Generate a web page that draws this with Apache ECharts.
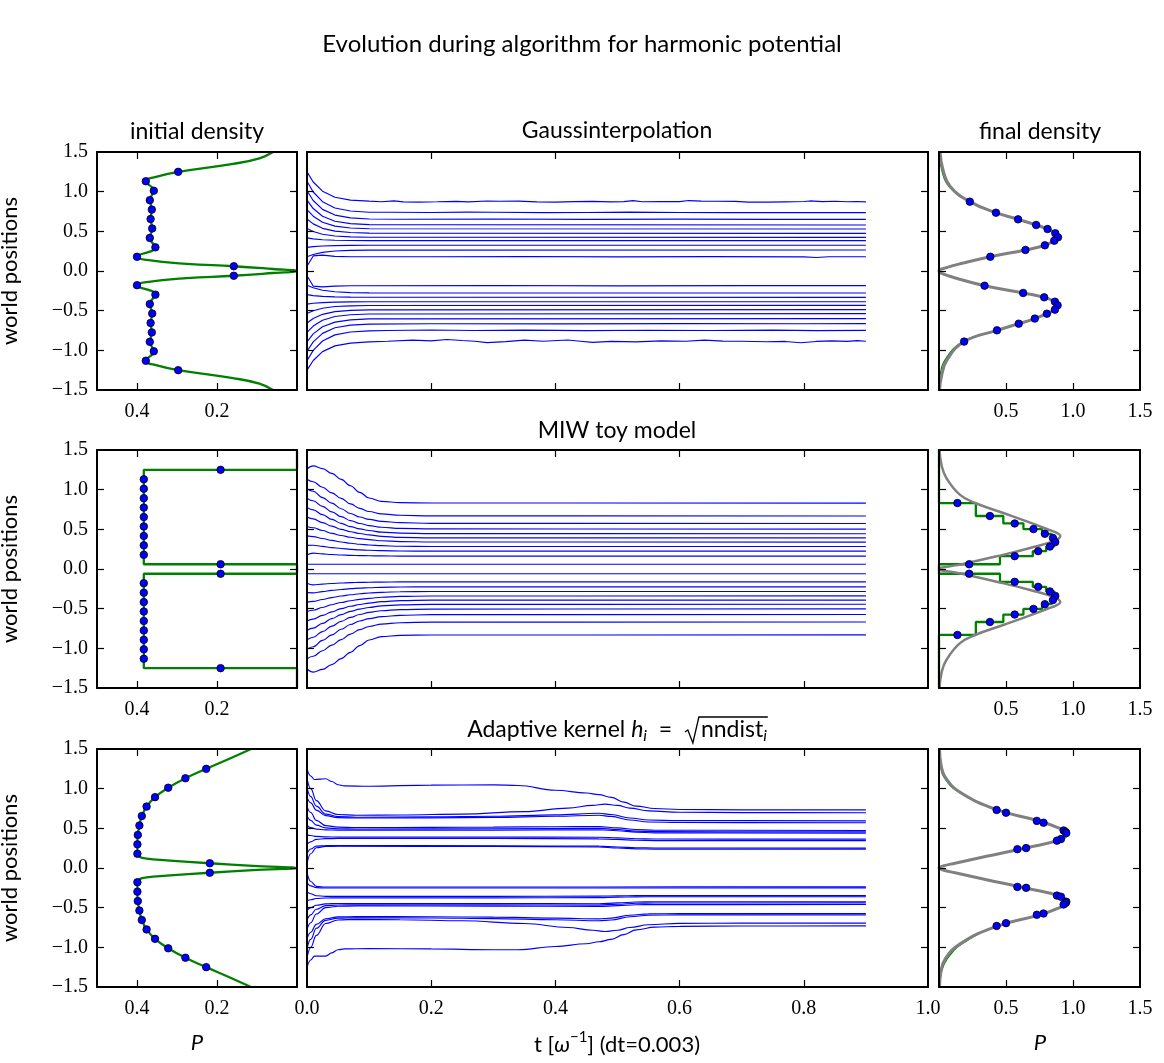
<!DOCTYPE html>
<html>
<head>
<meta charset="utf-8">
<script src="https://cdn.jsdelivr.net/npm/echarts@6/dist/echarts.min.js"></script>
<style>
html,body{margin:0;padding:0;background:#fff}
#chart{width:1164px;height:1063px}
</style>
</head>
<body>
<div id="chart"></div>
<script>
// ---------- tick values and labels ----------
const yTickLabels = [-1.5, -1.0, -0.5, 0.0, 0.5, 1.0, 1.5];
const yTickMarks = [-1.0, -0.5, 0.0, 0.5, 1.0];
const initPTicks = [0.4, 0.2];
const finalPTicks = [0.5, 1.0];
const finalPLabels = [0.5, 1.0, 1.5];
const timeTicks = [0.2, 0.4, 0.6, 0.8];
const timeLabels = [0.0, 0.2, 0.4, 0.6, 0.8, 1.0];

// ---------- particle positions at t = 0 (same for all three methods) ----------
const startPos = [1.25, 1.131, 1.012, 0.893, 0.774, 0.655, 0.536, 0.417, 0.298, 0.179, 0.06,
  -0.06, -0.179, -0.298, -0.417, -0.536, -0.655, -0.774, -0.893, -1.012, -1.131, -1.25];

// ---------- initial densities ----------
const gaussInitP = [0.297, 0.378, 0.358, 0.368, 0.363, 0.366, 0.362, 0.368, 0.354, 0.400, 0.158,
  0.158, 0.400, 0.354, 0.368, 0.362, 0.366, 0.363, 0.368, 0.358, 0.378, 0.297];
const gaussInitCurve = [[0.06,-1.5],[0.094,-1.42],[0.16,-1.35],[0.297,-1.25],[0.35,-1.19],[0.378,-1.131],
  [0.358,-1.012],[0.368,-0.893],[0.363,-0.774],[0.366,-0.655],[0.362,-0.536],[0.368,-0.417],[0.354,-0.298],
  [0.400,-0.179],[0.376,-0.139],[0.276,-0.09],[0.158,-0.06],[0.06,-0.025],[0,0],[0.06,0.025],[0.158,0.06],
  [0.276,0.09],[0.376,0.139],[0.400,0.179],[0.354,0.298],[0.368,0.417],[0.362,0.536],[0.366,0.655],
  [0.363,0.774],[0.368,0.893],[0.358,1.012],[0.378,1.131],[0.35,1.19],[0.297,1.25],[0.16,1.35],[0.094,1.42],[0.06,1.5]];

const miwInitP = [0.191, 0.383, 0.383, 0.383, 0.383, 0.383, 0.383, 0.383, 0.383, 0.383, 0.191,
  0.191, 0.383, 0.383, 0.383, 0.383, 0.383, 0.383, 0.383, 0.383, 0.383, 0.191];
const miwInitStep = [[0,1.5],[0,1.25],[0.383,1.25],[0.383,0.06],[0,0.06],[0,-0.06],[0.383,-0.06],
  [0.383,-1.25],[0,-1.25],[0,-1.5]];

const kernelInitP = [0.227, 0.279, 0.322, 0.355, 0.376, 0.388, 0.394, 0.398, 0.399, 0.399, 0.218,
  0.218, 0.399, 0.399, 0.398, 0.394, 0.388, 0.376, 0.355, 0.322, 0.279, 0.227];
const kernelInitCurve = [[0.115,-1.5],[0.172,-1.37],[0.227,-1.25],[0.279,-1.131],[0.322,-1.012],[0.355,-0.893],
  [0.376,-0.774],[0.388,-0.655],[0.394,-0.536],[0.398,-0.417],[0.399,-0.298],[0.399,-0.179],[0.393,-0.139],
  [0.376,-0.118],[0.326,-0.097],[0.218,-0.06],[0.11,-0.027],[0,0],[0.11,0.027],[0.218,0.06],[0.326,0.097],
  [0.376,0.118],[0.393,0.139],[0.399,0.179],[0.399,0.298],[0.398,0.417],[0.394,0.536],[0.388,0.655],
  [0.376,0.774],[0.355,0.893],[0.322,1.012],[0.279,1.131],[0.227,1.25],[0.172,1.37],[0.115,1.5]];

// ---------- final densities ----------
const gaussFinalY = [0.874, 0.735, 0.651, 0.58, 0.529, 0.475, 0.424, 0.382, 0.324, 0.265, 0.18,
  -0.185, -0.277, -0.332, -0.387, -0.433, -0.487, -0.538, -0.60, -0.664, -0.748, -0.89];
const gaussFinalP = [0.23, 0.425, 0.59, 0.725, 0.81, 0.868, 0.888, 0.86, 0.79, 0.645, 0.383,
  0.34, 0.628, 0.785, 0.865, 0.885, 0.865, 0.805, 0.715, 0.595, 0.4325, 0.1875];
const gaussRefCurve = [[0.004,-1.5],[0.018,-1.33],[0.06,-1.12],[0.1875,-0.89],[0.4325,-0.748],[0.595,-0.664],
  [0.715,-0.6],[0.805,-0.538],[0.865,-0.487],[0.888,-0.433],[0.865,-0.387],[0.785,-0.332],[0.628,-0.277],
  [0.34,-0.185],[0.13,-0.092],[0.02,-0.03],[0,0],[0.05,0.04],[0.18,0.1],[0.383,0.18],[0.645,0.265],[0.79,0.324],
  [0.86,0.382],[0.888,0.424],[0.868,0.475],[0.81,0.529],[0.725,0.58],[0.59,0.651],[0.425,0.735],[0.23,0.874],
  [0.085,1.063],[0.03,1.273],[0.008,1.5]];
const gaussFinalCurve = [[0.002,-1.5],[0.008,-1.33],[0.045,-1.12],[0.18,-0.89],[0.4325,-0.748],[0.595,-0.664],
  [0.715,-0.6],[0.805,-0.538],[0.865,-0.487],[0.888,-0.433],[0.865,-0.387],[0.785,-0.332],[0.628,-0.277],
  [0.34,-0.185],[0.13,-0.092],[0.02,-0.03],[0,0],[0.05,0.04],[0.18,0.1],[0.383,0.18],[0.645,0.265],[0.79,0.324],
  [0.86,0.382],[0.888,0.424],[0.868,0.475],[0.81,0.529],[0.725,0.58],[0.59,0.651],[0.425,0.735],[0.23,0.874],
  [0.075,1.063],[0.02,1.273],[0.004,1.5]];

const miwFinalY = [0.831, 0.668, 0.574, 0.503, 0.444, 0.392, 0.339, 0.283, 0.225, 0.162, 0.06,
  -0.06, -0.162, -0.225, -0.283, -0.339, -0.392, -0.444, -0.503, -0.574, -0.668, -0.831];
const miwFinalP = [0.1375, 0.38, 0.565, 0.705, 0.79, 0.85, 0.8675, 0.8275, 0.74, 0.565, 0.225,
  0.225, 0.565, 0.74, 0.8275, 0.8675, 0.85, 0.79, 0.705, 0.565, 0.38, 0.1375];
// density level on each interval between neighbouring particles (top to bottom)
const miwFinalLevels = [0.275, 0.48, 0.63, 0.77, 0.84, 0.875, 0.86, 0.80, 0.70, 0.455, 0,
  0.455, 0.70, 0.80, 0.86, 0.875, 0.84, 0.77, 0.63, 0.48, 0.275];
const miwRefCurve = [[0.004,-1.5],[0.02,-1.3],[0.055,-1.147],[0.155,-0.937],[0.27,-0.832],[0.48,-0.706],
  [0.655,-0.6],[0.805,-0.504],[0.88,-0.454],[0.905,-0.42],[0.8675,-0.361],[0.68,-0.265],[0.43,-0.16],
  [0.155,-0.055],[0,0],[0.155,0.055],[0.43,0.16],[0.68,0.265],[0.8675,0.361],[0.905,0.42],[0.88,0.454],
  [0.805,0.504],[0.655,0.6],[0.48,0.706],[0.27,0.832],[0.155,0.937],[0.055,1.147],[0.02,1.3],[0.004,1.5]];

const kernelFinalY = [0.732, 0.697, 0.594, 0.571, 0.473, 0.455, 0.44, 0.364, 0.345, 0.251, 0.237,
  -0.238, -0.25, -0.348, -0.362, -0.425, -0.44, -0.46, -0.574, -0.59, -0.695, -0.73];
const kernelFinalP = [0.43, 0.50, 0.73, 0.78, 0.93, 0.945, 0.95, 0.91, 0.88, 0.65, 0.585,
  0.585, 0.65, 0.88, 0.91, 0.95, 0.945, 0.93, 0.78, 0.73, 0.50, 0.43];
const kernelRefCurve = [[0.004,-1.5],[0.015,-1.3],[0.045,-1.15],[0.155,-0.958],[0.43,-0.735],[0.73,-0.6],[0.905,-0.496],
  [0.955,-0.433],[0.905,-0.357],[0.655,-0.256],[0.355,-0.147],[0.12,-0.06],[0.03,-0.025],[0,0],[0.03,0.025],[0.12,0.06],
  [0.355,0.147],[0.655,0.256],[0.905,0.357],[0.955,0.433],[0.905,0.496],[0.73,0.6],[0.43,0.735],
  [0.155,0.958],[0.045,1.15],[0.015,1.3],[0.004,1.5]];
const kernelFinalCurve = [[0.002,-1.5],[0.02,-1.3],[0.06,-1.15],[0.17,-0.958],[0.43,-0.735],[0.73,-0.6],[0.905,-0.496],
  [0.955,-0.433],[0.905,-0.357],[0.655,-0.256],[0.355,-0.147],[0.12,-0.06],[0.03,-0.025],[0,0],[0.03,0.025],[0.12,0.06],
  [0.355,0.147],[0.655,0.256],[0.905,0.357],[0.955,0.433],[0.905,0.496],[0.73,0.6],[0.43,0.735],
  [0.145,0.958],[0.035,1.15],[0.01,1.3],[0.002,1.5]];

// ---------- trajectories: Gaussinterpolation ([t, x] pairs) ----------
const gaussTrajectories = [
  [[0,1.25],[0.01,1.122],[0.025,1.006],[0.045,0.930],[0.07,0.894],[0.1,0.88],[0.12,0.873],[0.14,0.884],
   [0.155,0.872],[0.18,0.869],[0.21,0.873],[0.24,0.878],[0.26,0.872],[0.29,0.882],[0.31,0.879],[0.34,0.881],
   [0.37,0.871],[0.4,0.869],[0.43,0.874],[0.46,0.878],[0.49,0.872],[0.51,0.874],[0.525,0.887],[0.54,0.873],
   [0.57,0.876],[0.6,0.875],[0.615,0.888],[0.635,0.88],[0.66,0.879],[0.69,0.877],[0.71,0.869],[0.74,0.869],
   [0.77,0.872],[0.8,0.876],[0.81,0.883],[0.83,0.874],[0.85,0.879],[0.87,0.873],[0.885,0.876],[0.9,0.872]],
  [[0,1.131],[0.01,0.996],[0.025,0.874],[0.045,0.794],[0.07,0.756],[0.1,0.741],[0.13,0.74],[0.2,0.737],
   [0.26,0.743],[0.3,0.741],[0.38,0.736],[0.45,0.738],[0.52,0.742],[0.6,0.737],[0.68,0.735],[0.75,0.738],
   [0.82,0.736],[0.9,0.735]],
  [[0,1.012],[0.01,0.889],[0.025,0.777],[0.045,0.705],[0.07,0.670],[0.1,0.656],[0.15,0.652],[0.3,0.655],
   [0.45,0.65],[0.6,0.653],[0.75,0.651],[0.9,0.651]],
  [[0,0.893],[0.01,0.787],[0.025,0.690],[0.045,0.627],[0.07,0.597],[0.1,0.585],[0.9,0.58]],
  [[0,0.774],[0.01,0.691],[0.025,0.615],[0.045,0.566],[0.07,0.542],[0.1,0.533],[0.9,0.529]],
  [[0,0.655],[0.01,0.594],[0.025,0.538],[0.045,0.502],[0.07,0.485],[0.1,0.478],[0.9,0.475]],
  [[0,0.536],[0.01,0.498],[0.025,0.463],[0.045,0.441],[0.07,0.430],[0.1,0.426],[0.9,0.424]],
  [[0,0.417],[0.01,0.405],[0.025,0.394],[0.045,0.387],[0.07,0.384],[0.1,0.383],[0.9,0.382]],
  [[0,0.298],[0.01,0.307],[0.025,0.315],[0.045,0.320],[0.07,0.323],[0.1,0.324],[0.9,0.324]],
  [[0,0.179],[0.01,0.208],[0.025,0.235],[0.045,0.252],[0.07,0.260],[0.1,0.264],[0.9,0.265]],
  [[0,0.06],[0.01,0.19],[0.025,0.2],[0.045,0.185],[0.07,0.18],[0.2,0.18],[0.35,0.183],[0.5,0.178],
   [0.65,0.181],[0.8,0.178],[0.82,0.17],[0.84,0.18],[0.9,0.179]],
  [[0,-0.06],[0.01,-0.19],[0.025,-0.2],[0.045,-0.19],[0.07,-0.186],[0.3,-0.183],[0.5,-0.187],[0.7,-0.184],[0.9,-0.185]],
  [[0,-0.179],[0.01,-0.212],[0.025,-0.243],[0.045,-0.262],[0.07,-0.272],[0.1,-0.276],[0.9,-0.277]],
  [[0,-0.298],[0.01,-0.310],[0.025,-0.320],[0.045,-0.327],[0.07,-0.330],[0.1,-0.331],[0.9,-0.332]],
  [[0,-0.417],[0.01,-0.407],[0.025,-0.398],[0.045,-0.392],[0.07,-0.389],[0.1,-0.387],[0.9,-0.387]],
  [[0,-0.536],[0.01,-0.501],[0.025,-0.469],[0.045,-0.448],[0.07,-0.439],[0.1,-0.435],[0.9,-0.433]],
  [[0,-0.655],[0.01,-0.598],[0.025,-0.546],[0.045,-0.512],[0.07,-0.496],[0.1,-0.490],[0.9,-0.487]],
  [[0,-0.774],[0.01,-0.694],[0.025,-0.621],[0.045,-0.573],[0.07,-0.551],[0.1,-0.542],[0.9,-0.538]],
  [[0,-0.893],[0.01,-0.793],[0.025,-0.703],[0.045,-0.644],[0.07,-0.616],[0.1,-0.604],[0.9,-0.60]],
  [[0,-1.012],[0.01,-0.894],[0.025,-0.786],[0.045,-0.716],[0.07,-0.683],[0.1,-0.669],[0.2,-0.665],
   [0.4,-0.667],[0.6,-0.663],[0.8,-0.665],[0.9,-0.664]],
  [[0,-1.131],[0.01,-1.001],[0.025,-0.882],[0.045,-0.805],[0.07,-0.769],[0.1,-0.754],[0.13,-0.75],[0.2,-0.744],
   [0.27,-0.75],[0.35,-0.746],[0.45,-0.752],[0.55,-0.747],[0.65,-0.75],[0.75,-0.745],[0.82,-0.751],[0.9,-0.748]],
  [[0,-1.25],[0.01,-1.128],[0.025,-1.016],[0.045,-0.944],[0.07,-0.909],[0.1,-0.893],[0.13,-0.885],[0.17,-0.872],
   [0.2,-0.88],[0.225,-0.864],[0.25,-0.876],[0.27,-0.885],[0.29,-0.902],[0.32,-0.89],[0.35,-0.872],[0.38,-0.885],
   [0.42,-0.87],[0.44,-0.885],[0.46,-0.9],[0.49,-0.888],[0.53,-0.893],[0.57,-0.88],[0.61,-0.885],[0.64,-0.872],
   [0.67,-0.884],[0.7,-0.885],[0.74,-0.892],[0.77,-0.888],[0.795,-0.905],[0.82,-0.888],[0.845,-0.88],
   [0.87,-0.887],[0.886,-0.878],[0.9,-0.886]]
];

// ---------- trajectories: MIW toy model (shared time samples) ----------
const miwTimes = [0, 0.01, 0.025, 0.04, 0.055, 0.07, 0.085, 0.1, 0.12, 0.15, 0.2, 0.9];
const miwTrajectories = [
  [1.26, 1.30, 1.265, 1.205, 1.13, 1.05, 0.965, 0.895, 0.852, 0.836, 0.832, 0.831],
  [1.131, 1.10, 1.03, 0.96, 0.89, 0.82, 0.765, 0.725, 0.695, 0.677, 0.669, 0.668],
  [1.012, 0.98, 0.90, 0.83, 0.76, 0.70, 0.655, 0.625, 0.600, 0.584, 0.576, 0.574],
  [0.893, 0.86, 0.79, 0.72, 0.66, 0.61, 0.573, 0.547, 0.526, 0.512, 0.505, 0.503],
  [0.774, 0.745, 0.685, 0.625, 0.575, 0.535, 0.505, 0.485, 0.464, 0.452, 0.446, 0.444],
  [0.655, 0.632, 0.585, 0.54, 0.50, 0.47, 0.447, 0.43, 0.412, 0.399, 0.393, 0.392],
  [0.536, 0.52, 0.485, 0.45, 0.422, 0.40, 0.382, 0.37, 0.356, 0.346, 0.340, 0.339],
  [0.417, 0.408, 0.385, 0.36, 0.34, 0.325, 0.312, 0.303, 0.294, 0.287, 0.284, 0.283],
  [0.298, 0.30, 0.285, 0.27, 0.258, 0.248, 0.241, 0.236, 0.231, 0.227, 0.225, 0.225],
  [0.179, 0.20, 0.19, 0.183, 0.177, 0.172, 0.169, 0.167, 0.165, 0.163, 0.162, 0.162],
  [0.06, 0.06, 0.06, 0.06, 0.06, 0.06, 0.06, 0.06, 0.06, 0.06, 0.06, 0.06],
  [-0.06, -0.06, -0.06, -0.06, -0.06, -0.06, -0.06, -0.06, -0.06, -0.06, -0.06, -0.06],
  [-0.179, -0.20, -0.19, -0.183, -0.177, -0.172, -0.169, -0.167, -0.165, -0.163, -0.162, -0.162],
  [-0.298, -0.30, -0.285, -0.27, -0.258, -0.248, -0.241, -0.236, -0.231, -0.227, -0.225, -0.225],
  [-0.417, -0.408, -0.385, -0.36, -0.34, -0.325, -0.312, -0.303, -0.294, -0.287, -0.284, -0.283],
  [-0.536, -0.52, -0.485, -0.45, -0.422, -0.40, -0.382, -0.37, -0.356, -0.346, -0.340, -0.339],
  [-0.655, -0.632, -0.585, -0.54, -0.50, -0.47, -0.447, -0.43, -0.412, -0.399, -0.393, -0.392],
  [-0.774, -0.745, -0.685, -0.625, -0.575, -0.535, -0.505, -0.485, -0.464, -0.452, -0.446, -0.444],
  [-0.893, -0.86, -0.79, -0.72, -0.66, -0.61, -0.573, -0.547, -0.526, -0.512, -0.505, -0.503],
  [-1.012, -0.98, -0.90, -0.83, -0.76, -0.70, -0.655, -0.625, -0.600, -0.584, -0.576, -0.574],
  [-1.131, -1.10, -1.03, -0.96, -0.89, -0.82, -0.765, -0.725, -0.695, -0.677, -0.669, -0.668],
  [-1.26, -1.30, -1.265, -1.205, -1.13, -1.05, -0.965, -0.895, -0.852, -0.836, -0.832, -0.831]
];

// ---------- trajectories: adaptive kernel ([t, x] pairs) ----------
const kernelTrajectories = [
  [[0,1.25],[0.006,1.16],[0.012,1.115],[0.02,1.12],[0.03,1.125],[0.04,1.09],[0.05,1.05],[0.06,1.035],[0.1,1.03],
   [0.2,1.045],[0.3,1.048],[0.34,1.04],[0.4,0.98],[0.45,0.945],[0.47,0.925],[0.49,0.89],[0.51,0.83],[0.53,0.78],
   [0.56,0.75],[0.6,0.738],[0.7,0.733],[0.9,0.732]],
  [[0,1.131],[0.006,1.0],[0.015,0.85],[0.03,0.72],[0.05,0.675],[0.08,0.665],[0.15,0.668],[0.25,0.68],[0.35,0.71],
   [0.42,0.755],[0.46,0.79],[0.48,0.805],[0.5,0.79],[0.52,0.755],[0.55,0.72],[0.6,0.703],[0.7,0.698],[0.9,0.697]],
  [[0,1.012],[0.006,0.9],[0.015,0.78],[0.03,0.68],[0.05,0.648],[0.08,0.64],[0.2,0.645],[0.3,0.652],[0.4,0.67],
   [0.47,0.69],[0.49,0.675],[0.52,0.63],[0.55,0.605],[0.6,0.597],[0.9,0.594]],
  [[0,0.893],[0.006,0.82],[0.015,0.73],[0.03,0.66],[0.05,0.635],[0.08,0.63],[0.2,0.632],[0.3,0.638],[0.4,0.652],
   [0.47,0.665],[0.49,0.65],[0.52,0.605],[0.55,0.58],[0.6,0.573],[0.9,0.571]],
  [[0,0.774],[0.006,0.7],[0.015,0.6],[0.03,0.535],[0.05,0.515],[0.08,0.51],[0.2,0.512],[0.3,0.515],[0.4,0.52],
   [0.47,0.522],[0.5,0.505],[0.53,0.485],[0.56,0.476],[0.9,0.473]],
  [[0,0.655],[0.006,0.6],[0.015,0.54],[0.03,0.505],[0.05,0.495],[0.08,0.492],[0.3,0.495],[0.47,0.5],[0.5,0.485],
   [0.53,0.465],[0.56,0.458],[0.9,0.455]],
  [[0,0.536],[0.006,0.51],[0.015,0.49],[0.03,0.48],[0.05,0.477],[0.3,0.478],[0.47,0.482],[0.5,0.47],[0.53,0.452],
   [0.56,0.443],[0.9,0.44]],
  [[0,0.417],[0.006,0.41],[0.015,0.398],[0.03,0.392],[0.05,0.39],[0.3,0.39],[0.47,0.388],[0.5,0.38],[0.53,0.369],
   [0.56,0.365],[0.9,0.364]],
  [[0,0.298],[0.006,0.33],[0.015,0.36],[0.03,0.37],[0.05,0.372],[0.3,0.372],[0.47,0.368],[0.5,0.36],[0.53,0.35],
   [0.56,0.346],[0.9,0.345]],
  [[0,0.179],[0.006,0.24],[0.015,0.275],[0.03,0.282],[0.05,0.283],[0.3,0.28],[0.47,0.275],[0.5,0.265],[0.53,0.255],
   [0.56,0.252],[0.9,0.251]],
  [[0,0.06],[0.006,0.18],[0.015,0.255],[0.03,0.272],[0.05,0.275],[0.3,0.272],[0.47,0.265],[0.5,0.252],[0.53,0.242],
   [0.56,0.238],[0.9,0.237]],
  [[0,-0.06],[0.006,-0.17],[0.015,-0.232],[0.03,-0.24],[0.05,-0.24],[0.47,-0.239],[0.9,-0.238]],
  [[0,-0.179],[0.006,-0.225],[0.015,-0.248],[0.03,-0.252],[0.05,-0.252],[0.47,-0.252],[0.9,-0.25]],
  [[0,-0.298],[0.006,-0.325],[0.015,-0.35],[0.03,-0.357],[0.05,-0.358],[0.3,-0.357],[0.47,-0.355],[0.5,-0.351],
   [0.53,-0.349],[0.9,-0.348]],
  [[0,-0.417],[0.006,-0.4],[0.015,-0.385],[0.03,-0.378],[0.05,-0.376],[0.3,-0.376],[0.47,-0.374],[0.5,-0.368],
   [0.53,-0.364],[0.56,-0.362],[0.9,-0.362]],
  [[0,-0.536],[0.006,-0.5],[0.015,-0.47],[0.03,-0.452],[0.05,-0.447],[0.3,-0.448],[0.47,-0.45],[0.5,-0.44],
   [0.53,-0.429],[0.56,-0.426],[0.9,-0.425]],
  [[0,-0.655],[0.006,-0.59],[0.015,-0.52],[0.03,-0.475],[0.05,-0.466],[0.08,-0.463],[0.3,-0.465],[0.47,-0.468],
   [0.5,-0.457],[0.53,-0.444],[0.56,-0.441],[0.9,-0.44]],
  [[0,-0.774],[0.006,-0.69],[0.015,-0.58],[0.03,-0.5],[0.05,-0.482],[0.08,-0.478],[0.3,-0.48],[0.47,-0.485],
   [0.5,-0.475],[0.53,-0.463],[0.56,-0.461],[0.9,-0.46]],
  [[0,-0.893],[0.006,-0.81],[0.015,-0.71],[0.03,-0.64],[0.05,-0.617],[0.08,-0.612],[0.2,-0.615],[0.3,-0.62],
   [0.4,-0.632],[0.47,-0.642],[0.49,-0.632],[0.52,-0.595],[0.55,-0.578],[0.6,-0.575],[0.9,-0.574]],
  [[0,-1.012],[0.006,-0.9],[0.015,-0.76],[0.03,-0.66],[0.05,-0.632],[0.08,-0.627],[0.2,-0.63],[0.3,-0.638],
   [0.4,-0.652],[0.47,-0.665],[0.49,-0.655],[0.52,-0.615],[0.55,-0.595],[0.6,-0.591],[0.9,-0.59]],
  [[0,-1.131],[0.006,-1.0],[0.015,-0.85],[0.03,-0.70],[0.05,-0.655],[0.08,-0.648],[0.15,-0.652],[0.25,-0.665],
   [0.35,-0.70],[0.42,-0.75],[0.46,-0.785],[0.48,-0.8],[0.5,-0.785],[0.52,-0.75],[0.55,-0.715],[0.6,-0.698],
   [0.7,-0.695],[0.9,-0.695]],
  [[0,-1.25],[0.006,-1.16],[0.012,-1.11],[0.02,-1.11],[0.03,-1.11],[0.04,-1.07],[0.05,-1.03],[0.06,-1.02],
   [0.1,-1.015],[0.2,-1.02],[0.3,-1.03],[0.34,-1.03],[0.4,-0.99],[0.45,-0.955],[0.47,-0.93],[0.49,-0.9],
   [0.51,-0.84],[0.53,-0.78],[0.56,-0.745],[0.6,-0.735],[0.7,-0.731],[0.9,-0.73]]
];

// ---------- styling ----------
const SANS = 'Lato, "Noto Sans", sans-serif';
const SERIF = '"Liberation Serif", "DejaVu Serif", serif';
const BLUE = '#0000ff', GREEN = '#008000', GRAY = '#808080';

const rowTop = [152, 450, 749];
const rowH = 238;
const colBox = [[97, 200], [307, 621], [939, 201]];

function fmt1(v) { return (v < -1e-9 ? '\u2212' : '') + Math.abs(v).toFixed(1); }

const grid = [], xAxis = [], yAxis = [], series = [];

function axisLine() { return { show: true, onZero: false, lineStyle: { color: '#000', width: 2 } }; }
function ticks(vals) {
  return { show: true, inside: true, length: 7, lineStyle: { color: '#000', width: 1.2 }, customValues: vals };
}
function labels(vals, show) {
  return { show: show, customValues: vals, margin: 12, color: '#000', fontFamily: SERIF, fontSize: 20,
    formatter: fmt1 };
}

for (let r = 0; r < 3; r++) {
  for (let c = 0; c < 3; c++) {
    const g = grid.length;
    grid.push({ left: colBox[c][0], top: rowTop[r], width: colBox[c][1], height: rowH,
      containLabel: false, outerBoundsMode: 'none' });
    const range = c === 0 ? { min: 0, max: 0.5, inverse: true } : (c === 1 ? { min: 0, max: 1 } : { min: 0, max: 1.5 });
    const tk = c === 0 ? initPTicks : (c === 1 ? timeTicks : finalPTicks);
    const lb = c === 0 ? initPTicks : (c === 1 ? timeLabels : finalPLabels);
    const showX = c !== 1 || r === 2;
    const common = { gridIndex: g, type: 'value', splitLine: { show: false }, z: 10 };
    xAxis.push(Object.assign({}, common, range, { position: 'bottom', axisLine: axisLine(),
      axisTick: ticks(tk), axisLabel: labels(lb, showX) }));
    xAxis.push(Object.assign({}, common, range, { position: 'top', axisLine: axisLine(),
      axisTick: ticks(tk), axisLabel: { show: false } }));
    const yLeft = Object.assign({}, common, { min: -1.5, max: 1.5, position: 'left', axisLine: axisLine(),
      axisTick: ticks(yTickMarks), axisLabel: Object.assign(labels(yTickLabels, c === 0), { margin: 9 }) });
    if (c === 0) {
      Object.assign(yLeft, { name: 'world positions', nameLocation: 'middle', nameGap: 76, nameRotate: 90,
        nameTextStyle: { fontFamily: SANS, fontSize: 22, color: '#000' } });
    }
    yAxis.push(yLeft);
    yAxis.push(Object.assign({}, common, { min: -1.5, max: 1.5, position: 'right', axisLine: axisLine(),
      axisTick: ticks(yTickMarks), axisLabel: { show: false } }));
  }
}

function lineSeries(g, data, color, width, extra) {
  return Object.assign({ type: 'line', xAxisIndex: 2 * g, yAxisIndex: 2 * g, data: data, symbol: 'none',
    showSymbol: false, lineStyle: { color: color, width: width }, silent: true, animation: false, clip: true,
    z: 2 }, extra || {});
}
function dotSeries(g, ps, ys) {
  return { type: 'scatter', xAxisIndex: 2 * g, yAxisIndex: 2 * g, data: ps.map((p, i) => [p, ys[i]]),
    symbol: 'circle', symbolSize: 7.5, itemStyle: { color: BLUE, borderColor: '#000', borderWidth: 0.8, opacity: 1 },
    silent: true, animation: false, z: 5 };
}
const curveOpts = { smooth: 0.45 };
const trajOpts = { smooth: 0.4, smoothMonotone: 'x' };

// row 1: Gaussinterpolation
series.push(lineSeries(0, gaussInitCurve, GREEN, 2.3, curveOpts));
series.push(dotSeries(0, gaussInitP, startPos));
gaussTrajectories.forEach(tr => series.push(lineSeries(1, tr, BLUE, 1.15)));
series.push(lineSeries(2, gaussFinalCurve, GREEN, 1.2, curveOpts));
series.push(lineSeries(2, gaussRefCurve, GRAY, 3, Object.assign({ z: 3 }, curveOpts)));
series.push(dotSeries(2, gaussFinalP, gaussFinalY));

// row 2: MIW toy model
series.push(lineSeries(3, miwInitStep, GREEN, 2.3));
series.push(dotSeries(3, miwInitP, startPos));
miwTrajectories.forEach(tr => series.push(lineSeries(4, tr.map((x, i) => [miwTimes[i], x]), BLUE, 1.15, trajOpts)));
const miwStep = [[0, 1.5], [0, miwFinalY[0]]];
miwFinalLevels.forEach((lev, i) => { miwStep.push([lev, miwFinalY[i]]); miwStep.push([lev, miwFinalY[i + 1]]); });
miwStep.push([0, miwFinalY[miwFinalY.length - 1]]);
miwStep.push([0, -1.5]);
series.push(lineSeries(5, miwStep, GREEN, 2.3));
series.push(lineSeries(5, miwRefCurve, GRAY, 2.5, Object.assign({ z: 3 }, curveOpts)));
series.push(dotSeries(5, miwFinalP, miwFinalY));

// row 3: adaptive kernel
series.push(lineSeries(6, kernelInitCurve, GREEN, 2.3, curveOpts));
series.push(dotSeries(6, kernelInitP, startPos));
kernelTrajectories.forEach(tr => series.push(lineSeries(7, tr, BLUE, 1.15, trajOpts)));
series.push(lineSeries(8, kernelFinalCurve, GREEN, 1.2, curveOpts));
series.push(lineSeries(8, kernelRefCurve, GRAY, 3, Object.assign({ z: 3 }, curveOpts)));
series.push(dotSeries(8, kernelFinalP, kernelFinalY));

// ---------- texts ----------
const mctx = document.createElement('canvas').getContext('2d');
function fontStr(p) { return (p.italic ? 'italic ' : '') + p.size + 'px ' + SANS; }
function measure(p) { mctx.font = fontStr(p); return mctx.measureText(p.t).width; }

const graphic = [];
function plainText(str, x, y, size, italic) {
  graphic.push({ type: 'text', x: x, y: y, silent: true, z: 20,
    style: { text: str, font: fontStr({ size: size, italic: italic }), fill: '#000', align: 'center',
      verticalAlign: 'middle' } });
}
function richLine(pieces, cx, cy) {
  const widths = pieces.map(p => (p.w != null ? p.w : measure(p)));
  const total = widths.reduce((a, b) => a + b, 0);
  let x = cx - total / 2;
  const pos = [];
  pieces.forEach((p, i) => {
    pos.push(x);
    if (p.t) {
      graphic.push({ type: 'text', x: x, y: cy + (p.dy || 0), silent: true, z: 20,
        style: { text: p.t, font: fontStr(p), fill: '#000', align: 'left', verticalAlign: 'middle' } });
    }
    x += widths[i];
  });
  return { pos: pos, widths: widths };
}

plainText('Evolution during algorithm for harmonic potential', 582, 44, 24);
plainText('initial density', 197, 132, 23);
plainText('Gaussinterpolation', 617, 131, 23);
plainText('final density', 1040, 132, 23);
plainText('MIW toy model', 617, 431, 23);

// "Adaptive kernel h_i = sqrt(nndist_i)"
const ak = richLine([
  { t: 'Adaptive kernel ', size: 23 },
  { t: 'h', size: 23, italic: true },
  { t: 'i', size: 16, italic: true, dy: 6 },
  { t: '  =  ', size: 23 },
  { t: '', w: 17 },
  { t: 'nndist', size: 23 },
  { t: 'i', size: 16, italic: true, dy: 6 }
], 617, 730);
{
  const rx = ak.pos[4];
  const endX = ak.pos[6] + ak.widths[6] + 1;
  const topY = 730 - 13;
  graphic.push({ type: 'polyline', silent: true, z: 20,
    shape: { points: [[rx + 1, 732], [rx + 4, 730], [rx + 9, 743], [rx + 15, topY], [endX, topY]] },
    style: { stroke: '#000', lineWidth: 1.3, fill: null } });
}

// axis names under the bottom row
plainText('P', 197, 1043, 22, true);
plainText('P', 1040, 1043, 22, true);
richLine([
  { t: 't [', size: 22 },
  { t: '\u03c9', size: 22, italic: true },
  { t: '\u22121', size: 15, dy: -8 },
  { t: '] (dt=0.003)', size: 22 }
], 617, 1045);

const chart = echarts.init(document.getElementById('chart'), null, { renderer: 'canvas' });
chart.setOption({
  backgroundColor: '#fff',
  animation: false,
  grid: grid,
  xAxis: xAxis,
  yAxis: yAxis,
  series: series,
  graphic: graphic
});
</script>
</body>
</html>
